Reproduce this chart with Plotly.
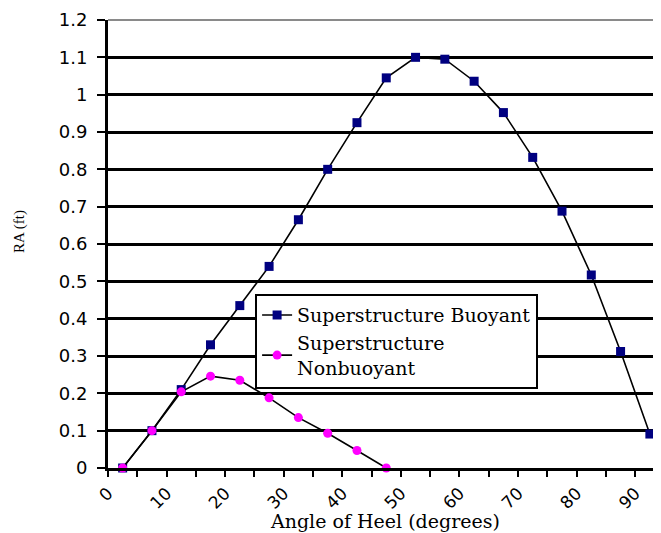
import plotly.graph_objects as go

# Data
angle_buoyant = [2.5, 7.5, 12.5, 17.5, 22.5, 27.5, 32.5, 37.5, 42.5, 47.5,
                 52.5, 57.5, 62.5, 67.5, 72.5, 77.5, 82.5, 87.5, 92.5]
ra_buoyant = [0.0, 0.10, 0.21, 0.33, 0.435, 0.54, 0.665, 0.80, 0.925, 1.045,
              1.10, 1.095, 1.036, 0.952, 0.832, 0.688, 0.517, 0.312, 0.091]

angle_nonbuoyant = [2.5, 7.5, 12.5, 17.5, 22.5, 27.5, 32.5, 37.5, 42.5, 47.5]
ra_nonbuoyant = [0.0, 0.10, 0.204, 0.246, 0.235, 0.188, 0.135, 0.093, 0.047, 0.0]

x_tickvals = [0, 10, 20, 30, 40, 50, 60, 70, 80, 90]
y_tickvals = [0, 0.1, 0.2, 0.3, 0.4, 0.5, 0.6, 0.7, 0.8, 0.9, 1.0, 1.1, 1.2]
y_ticktext = ["0", "0.1", "0.2", "0.3", "0.4", "0.5", "0.6", "0.7", "0.8",
              "0.9", "1", "1.1", "1.2"]

x_title = "Angle of Heel (degrees)"
y_title = "RA (ft)"

fig = go.Figure()
fig.add_trace(go.Scatter(
    x=angle_buoyant, y=ra_buoyant, mode="lines+markers",
    name="Superstructure Buoyant",
    line=dict(color="black", width=1.6),
    marker=dict(symbol="square", color="#000080", size=9),
    cliponaxis=False,
))
fig.add_trace(go.Scatter(
    x=angle_nonbuoyant, y=ra_nonbuoyant, mode="lines+markers",
    name="Superstructure<br>Nonbuoyant",
    line=dict(color="black", width=1.6),
    marker=dict(symbol="circle", color="#FF00FF", size=9),
    cliponaxis=False,
))

fig.update_layout(
    width=661, height=533,
    margin=dict(l=100, r=8, t=12, b=73),
    paper_bgcolor="white", plot_bgcolor="white",
    showlegend=True,
    legend=dict(
        x=0.266, y=0.388, xanchor="left", yanchor="top",
        bgcolor="white", bordercolor="black", borderwidth=2,
        font=dict(family="DejaVu Serif", size=19, color="black"),
        tracegroupgap=0,
    ),
    xaxis=dict(
        range=[0, 94.4],
        automargin=False,
        tickvals=x_tickvals,
        tickangle=-45,
        ticks="outside", ticklen=6, tickwidth=2, tickcolor="black",
        minor=dict(dtick=5, tick0=0, ticks="outside", ticklen=6,
                   tickwidth=2, tickcolor="black", showgrid=False),
        showline=True, linecolor="black", linewidth=2.5,
        showgrid=False, zeroline=False,
        tickfont=dict(family="DejaVu Sans", size=17, color="black"),
    ),
    yaxis=dict(
        range=[0, 1.2],
        automargin=False,
        tickvals=y_tickvals, ticktext=y_ticktext,
        ticks="outside", ticklen=8, tickwidth=2, tickcolor="black",
        showline=True, linecolor="black", linewidth=3,
        showgrid=True, gridcolor="black", gridwidth=2.5,
        zeroline=False,
        ticklabelstandoff=6,
        tickfont=dict(family="DejaVu Sans", size=18, color="black"),
    ),
    annotations=[
        dict(text=x_title, xref="paper", yref="paper", x=0.5, y=-0.118,
             xanchor="center", yanchor="middle", showarrow=False,
             font=dict(family="DejaVu Serif", size=19, color="black")),
        dict(text=y_title, xref="paper", yref="paper", x=-0.159, y=0.527,
             xanchor="center", yanchor="middle", showarrow=False,
             textangle=-90,
             font=dict(family="Liberation Serif", size=15, color="black")),
    ],
    shapes=[dict(type="line", xref="paper", yref="paper", x0=0, x1=1,
                 y0=1, y1=1, line=dict(color="#8a8a8a", width=2), layer="above")],
)

fig.write_html("out.html")
